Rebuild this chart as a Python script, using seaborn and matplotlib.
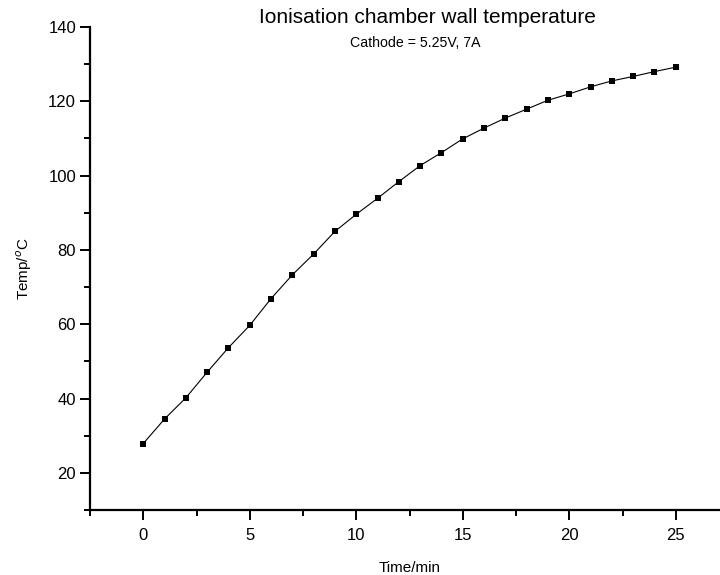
import numpy as np
import pandas as pd
import matplotlib
matplotlib.use('Agg')
import matplotlib.pyplot as plt
import seaborn as sns
from matplotlib.ticker import MultipleLocator

# data
time_min = [0, 1, 2, 3, 4, 5, 6, 7, 8, 9, 10, 11, 12,
            13, 14, 15, 16, 17, 18, 19, 20, 21, 22, 23, 24, 25]
temp_c = [27.9, 34.5, 40.2, 47.1, 53.7, 59.7, 66.9, 73.3, 78.9, 85.0, 89.6, 93.9, 98.4,
          102.7, 106.2, 109.9, 112.8, 115.5, 117.9, 120.3, 122.0, 123.9, 125.5, 126.7, 128.0, 129.2]

title = 'Ionisation chamber wall temperature'
subtitle = 'Cathode = 5.25V, 7A'

df = pd.DataFrame({'time': time_min, 'temp': temp_c})

sns.set_style('ticks')
plt.rcParams['font.family'] = ['Liberation Sans', 'DejaVu Sans']
plt.rcParams['text.color'] = 'black'
plt.rcParams['axes.labelcolor'] = 'black'

fig = plt.figure(figsize=(7.2, 5.75), dpi=100)
ax = fig.add_axes([0.125, 0.113, 0.8875, 0.840])

sns.lineplot(data=df, x='time', y='temp', ax=ax, color='black', linewidth=0.8,
             marker='s', markersize=4.5, markeredgewidth=0, markerfacecolor='black')

ax.set_xlim(-2.5, 27.5)
ax.set_ylim(10, 140)
ax.xaxis.set_major_locator(MultipleLocator(5))
ax.xaxis.set_minor_locator(MultipleLocator(2.5))
ax.yaxis.set_major_locator(MultipleLocator(20))
ax.yaxis.set_minor_locator(MultipleLocator(10))
ax.set_yticks([20, 40, 60, 80, 100, 120, 140])

for side in ['top', 'right']:
    ax.spines[side].set_visible(False)
for side in ['left', 'bottom']:
    ax.spines[side].set_linewidth(1.6)
    ax.spines[side].set_color('black')

ax.tick_params(which='major', direction='out', length=7, width=1.4,
               labelsize=12, pad=3, colors='black')
ax.tick_params(axis='x', which='major', pad=6)
ax.tick_params(which='minor', direction='out', length=4, width=1.4, colors='black')

ax.set_xlabel('Time/min', fontsize=11, labelpad=13)
ax.set_ylabel('Temp/$^o$C', fontsize=11, labelpad=10)

fig.text(0.593, 0.970, title, ha='center', va='center', fontsize=15)
fig.text(0.577, 0.925, subtitle, ha='center', va='center', fontsize=10.2)

fig.savefig('out.png', dpi=100, facecolor='white')
